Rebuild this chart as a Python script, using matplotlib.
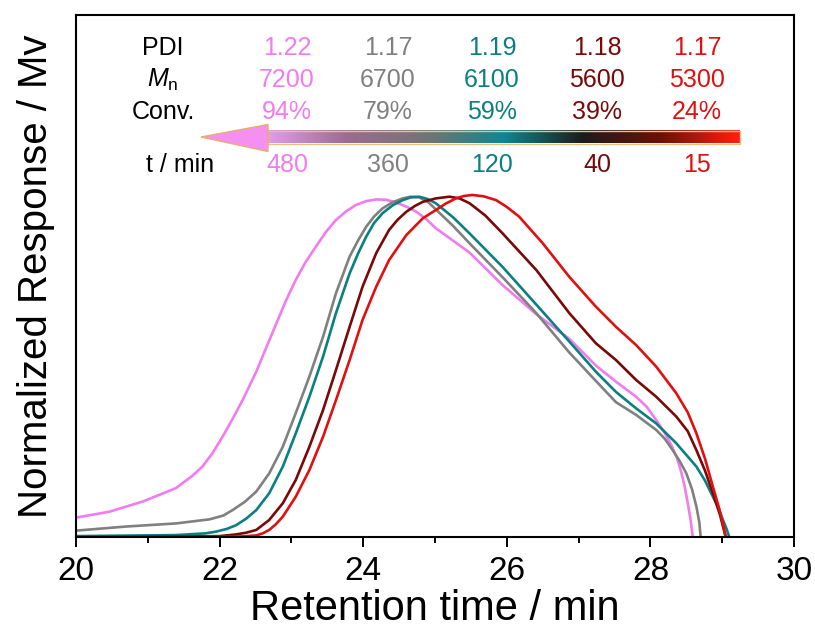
import numpy as np
import matplotlib
matplotlib.use('Agg')
import matplotlib.pyplot as plt
from matplotlib.colors import LinearSegmentedColormap
from matplotlib.patches import Polygon, Rectangle

plt.rcParams['font.family'] = ['Liberation Sans Narrow', 'Liberation Sans', 'DejaVu Sans']
plt.rcParams['mathtext.fontset'] = 'custom'
plt.rcParams['mathtext.rm'] = 'Liberation Sans'
plt.rcParams['mathtext.it'] = 'Liberation Sans:italic'

#%% data
x_480 = [20.0, 20.46, 20.93, 21.39, 21.62, 21.76, 21.90, 22.04, 22.18, 22.32, 22.51, 22.65, 22.79, 22.92, 23.06,
         23.20, 23.34, 23.48, 23.62, 23.76, 23.90, 24.04, 24.18, 24.32, 24.46, 24.60, 24.74, 24.88, 25.01,
         25.48, 25.94, 26.41, 26.87, 27.24, 27.52, 27.80, 27.95, 28.08, 28.20, 28.29, 28.37, 28.43, 28.48,
         28.52, 28.56, 28.59]
y_480 = [0.058, 0.075, 0.105, 0.144, 0.180, 0.207, 0.246, 0.294, 0.346, 0.401, 0.484, 0.555, 0.625, 0.690, 0.752,
         0.805, 0.849, 0.892, 0.927, 0.952, 0.971, 0.982, 0.987, 0.986, 0.978, 0.966, 0.951, 0.929, 0.903,
         0.832, 0.737, 0.652, 0.580, 0.502, 0.455, 0.411, 0.381, 0.343, 0.305, 0.270, 0.232, 0.190, 0.145,
         0.100, 0.050, 0.0]

x_360 = [20.0, 20.70, 21.39, 21.86, 22.05, 22.18, 22.35, 22.51, 22.69, 22.88, 23.06, 23.25, 23.44, 23.62, 23.81,
         23.93, 24.04, 24.15, 24.27, 24.41, 24.55, 24.66, 24.78, 24.90, 25.01, 25.25, 25.48, 25.94, 26.41,
         26.87, 27.20, 27.52, 27.80, 28.08, 28.20, 28.31, 28.41, 28.50, 28.58, 28.64, 28.68, 28.70]
y_360 = [0.020, 0.032, 0.041, 0.053, 0.064, 0.080, 0.104, 0.134, 0.187, 0.265, 0.363, 0.470, 0.586, 0.713, 0.820,
         0.868, 0.907, 0.937, 0.961, 0.979, 0.990, 0.995, 0.993, 0.980, 0.958, 0.910, 0.859, 0.760, 0.655,
         0.540, 0.466, 0.395, 0.358, 0.314, 0.288, 0.255, 0.222, 0.187, 0.140, 0.090, 0.045, 0.0]

x_120 = [20.0, 21.39, 21.80, 21.95, 22.10, 22.23, 22.37, 22.51, 22.69, 22.88, 23.06, 23.25, 23.44, 23.62, 23.81,
         23.93, 24.04, 24.15, 24.27, 24.41, 24.55, 24.66, 24.78, 24.90, 25.01, 25.25, 25.48, 25.94, 26.41,
         26.87, 27.24, 27.52, 27.80, 28.08, 28.36, 28.64, 28.76, 28.87, 28.95, 29.01, 29.06, 29.10]
y_120 = [0.004, 0.007, 0.012, 0.017, 0.025, 0.036, 0.055, 0.080, 0.129, 0.207, 0.304, 0.411, 0.528, 0.655, 0.771,
         0.830, 0.878, 0.918, 0.947, 0.970, 0.985, 0.993, 0.995, 0.988, 0.976, 0.935, 0.888, 0.790, 0.680,
         0.572, 0.484, 0.425, 0.377, 0.333, 0.275, 0.207, 0.166, 0.119, 0.085, 0.051, 0.025, 0.0]

x_40 = [20.0, 21.0, 22.0, 22.23, 22.37, 22.51, 22.69, 22.88, 23.06, 23.25, 23.44, 23.62, 23.81, 23.99, 24.18,
        24.36, 24.48, 24.60, 24.72, 24.83, 25.01, 25.20, 25.34, 25.48, 25.70, 25.94, 26.41, 26.87, 27.24,
        27.52, 27.80, 28.08, 28.36, 28.52, 28.64, 28.76, 28.87, 28.97, 29.05]
y_40 = [0.001, 0.002, 0.004, 0.009, 0.014, 0.022, 0.051, 0.100, 0.168, 0.265, 0.372, 0.489, 0.615, 0.732, 0.830,
        0.898, 0.928, 0.951, 0.968, 0.980, 0.990, 0.995, 0.990, 0.976, 0.940, 0.888, 0.781, 0.655, 0.567,
        0.518, 0.460, 0.411, 0.353, 0.310, 0.255, 0.195, 0.129, 0.065, 0.0]

x_15 = [20.0, 21.0, 22.0, 22.30, 22.51, 22.60, 22.69, 22.78, 22.88, 23.06, 23.25, 23.44, 23.62, 23.81, 23.99,
        24.18, 24.36, 24.60, 24.83, 25.01, 25.15, 25.29, 25.40, 25.52, 25.68, 25.85, 26.00, 26.17, 26.50,
        26.87, 27.24, 27.52, 27.80, 28.08, 28.36, 28.52, 28.64, 28.76, 28.87, 28.95, 29.01, 29.05]
y_15 = [0.0, 0.001, 0.002, 0.003, 0.006, 0.012, 0.022, 0.038, 0.061, 0.119, 0.197, 0.294, 0.401, 0.518, 0.635,
        0.732, 0.810, 0.883, 0.932, 0.956, 0.975, 0.990, 0.997, 1.0, 0.996, 0.985, 0.965, 0.937, 0.859,
        0.761, 0.674, 0.615, 0.562, 0.499, 0.421, 0.365, 0.304, 0.230, 0.148, 0.090, 0.041, 0.0]

colors = ['#f07cf0', '#808080', '#0a8080', '#7a0808', '#e01010']
pdi = ['1.22', '1.17', '1.19', '1.18', '1.17']
mn = ['7200', '6700', '6100', '5600', '5300']
conv = ['94%', '79%', '59%', '39%', '24%']
times = ['480', '360', '120', '40', '15']
grad_colors = ['#e49ae4', '#9a6c94', '#747474', '#0c8890', '#1c1c1c', '#6c1008', '#ff2010']

#%% main plot
fig = plt.figure(figsize=(8.15, 6.33), dpi=100)
ax = fig.add_axes([0.0933, 0.1509, 0.881, 0.8254])

for xs, ys, c in zip([x_480, x_360, x_120, x_40, x_15], [y_480, y_360, y_120, y_40, y_15], colors):
    ax.plot(xs, ys, color=c, lw=1.9, solid_joinstyle='round')

ax.set_xlim(20, 30)
ax.set_ylim(0, 1.5255)
ax.set_xticks(np.arange(20, 31, 2))
ax.set_xticks(np.arange(21, 30, 2), minor=True)
ax.set_yticks([])
ax.tick_params(axis='x', which='major', direction='out', length=7, width=1.4, labelsize=24, pad=6)
ax.tick_params(axis='x', which='minor', direction='out', length=4, width=1.4)
for s in ax.spines.values():
    s.set_linewidth(1.5)
ax.set_xlabel('Retention time / min', fontsize=30, labelpad=2)
ax.set_ylabel('Normalized Response / Mv', fontsize=29, labelpad=15)

#%% table + gradient arrow on a pixel overlay
ov = fig.add_axes([0, 0, 1, 1], zorder=5)
ov.axis('off')
ov.patch.set_alpha(0)

tfont = ['Liberation Sans', 'DejaVu Sans']
fs = 18
col_x = [287, 388, 492, 597, 697]
ov.text(163, 48, 'PDI', fontsize=fs, ha='center', va='center', family=tfont)
ov.text(163, 80, r'$M_\mathrm{n}$', fontsize=fs, ha='center', va='center', family=tfont)
ov.text(163, 112, 'Conv.', fontsize=fs, ha='center', va='center', family=tfont)
ov.text(180, 165, 't / min', fontsize=fs, ha='center', va='center', family=tfont)
for i in range(5):
    ov.text(col_x[i], 48, pdi[i], color=colors[i], fontsize=fs, ha='center', va='center', family=tfont)
    ov.text(col_x[i], 80, mn[i], color=colors[i], fontsize=fs, ha='center', va='center', family=tfont)
    ov.text(col_x[i], 112, conv[i], color=colors[i], fontsize=fs, ha='center', va='center', family=tfont)
    ov.text(col_x[i], 165, times[i], color=colors[i], fontsize=fs, ha='center', va='center', family=tfont)

cmap = LinearSegmentedColormap.from_list('arr', grad_colors)
ov.imshow(np.linspace(0, 1, 256)[None, :], cmap=cmap, aspect='auto',
          extent=[268, 740, 143.5, 130.5], zorder=2)
ov.add_patch(Rectangle((268, 130.5), 472, 13, fill=False, ec='#e8c080', lw=1, zorder=3))
ov.add_patch(Polygon([(201, 137), (268, 124.5), (268, 151.5)], closed=True,
                     fc='#f590f0', ec='#e0b070', lw=1, zorder=4))
ov.set_xlim(0, 815)
ov.set_ylim(633, 0)

fig.savefig('out.png', dpi=100)
